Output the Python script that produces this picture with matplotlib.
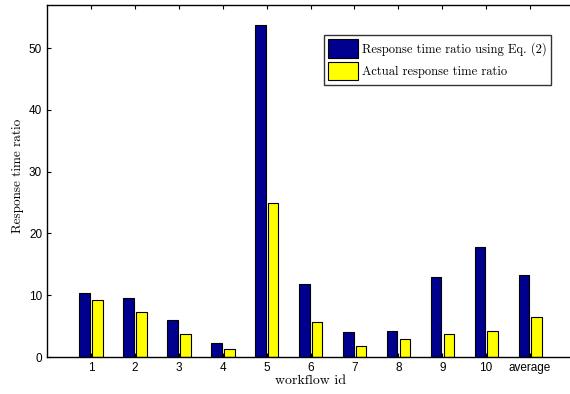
import matplotlib
matplotlib.use("Agg")
import matplotlib.pyplot as plt
import numpy as np

categories = ["1", "2", "3", "4", "5", "6", "7", "8", "9", "10", "average"]
estimated = [10.3, 9.55, 6.0, 2.3, 53.8, 11.9, 4.0, 4.2, 13.0, 17.8, 13.3]
actual = [9.3, 7.35, 3.75, 1.3, 24.9, 5.6, 1.75, 2.9, 3.65, 4.25, 6.5]
series_names = ["Response time ratio using Eq. (2)", "Actual response time ratio"]

fig = plt.figure(figsize=(5.7, 3.94), dpi=100)
ax = fig.add_axes([47/570, 37/394, 527/570, 352/394])

x = np.arange(1, len(categories) + 1)
w = 0.24
ax.bar(x - 0.14, estimated, width=w, color="#00008F", edgecolor="black", linewidth=0.8,
       label=series_names[0])
ax.bar(x + 0.15, actual, width=w, color="#FFFF00", edgecolor="black", linewidth=0.8,
       label=series_names[1])

ax.set_xlim(0, 12)
ax.set_ylim(0, 57)
ax.set_xticks(x)
ax.set_xticklabels(categories, fontsize=8.5, family="Liberation Sans")
ax.set_yticks([0, 10, 20, 30, 40, 50])
ax.set_yticklabels(["0", "10", "20", "30", "40", "50"], fontsize=8.5, family="Liberation Sans")
ax.tick_params(direction="in", top=True, right=False, length=3, width=0.8)
for s in ["left", "bottom", "top"]:
    ax.spines[s].set_linewidth(1.0)
ax.spines["right"].set_visible(False)

ax.set_xlabel("workflow id", family="cmr10", fontsize=10, labelpad=1)
ax.set_ylabel("Response time ratio", family="cmr10", fontsize=9.5, labelpad=3)
ax.yaxis.set_label_coords(-0.043, 0.515)

leg = ax.legend(loc="upper right", bbox_to_anchor=(551/570, 1 - 35/394),
                bbox_transform=fig.transFigure, prop={"family": "cmr10", "size": 9},
                frameon=True, fancybox=False, handlelength=2.4, handleheight=1.9,
                handletextpad=0.3, labelspacing=0.3, borderpad=0.35, borderaxespad=0)
leg.get_frame().set_edgecolor("black")
leg.get_frame().set_linewidth(1.0)

fig.savefig("out.png", dpi=100)
